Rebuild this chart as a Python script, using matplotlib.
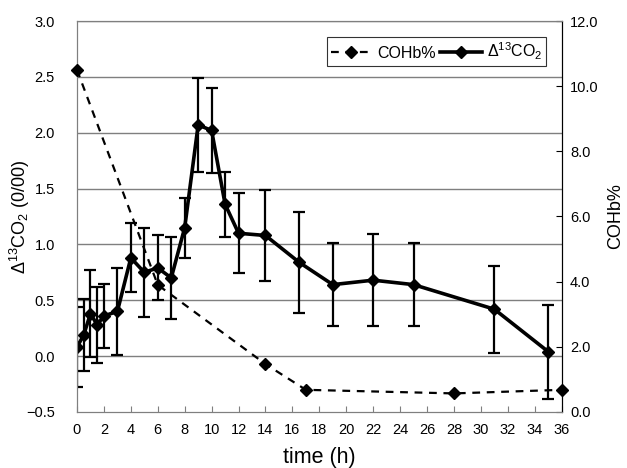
import matplotlib
matplotlib.use("Agg")
import matplotlib.pyplot as plt
from matplotlib.lines import Line2D

plt.rcParams["font.family"] = ["Liberation Sans", "DejaVu Sans"]

# Δ13CO2 series (left axis) with symmetric error bars
time_h = [0, 0.5, 1, 1.5, 2, 3, 4, 5, 6, 7, 8, 9, 10, 11, 12, 14, 16.5, 19, 22, 25, 31, 35]
d13co2 = [0.08, 0.19, 0.38, 0.28, 0.36, 0.40, 0.88, 0.75, 0.79, 0.70, 1.15, 2.07, 2.02, 1.36,
          1.10, 1.08, 0.84, 0.64, 0.68, 0.64, 0.42, 0.04]
d13co2_err = [0.36, 0.32, 0.39, 0.34, 0.29, 0.39, 0.31, 0.40, 0.29, 0.37, 0.27, 0.42, 0.38, 0.29,
              0.36, 0.41, 0.45, 0.37, 0.41, 0.37, 0.39, 0.42]

# COHb% series (right axis)
cohb_time = [0, 6, 14, 17, 28, 36]
cohb = [10.5, 3.9, 1.47, 0.68, 0.57, 0.68]

left_ticks = [-0.5, 0.0, 0.5, 1.0, 1.5, 2.0, 2.5, 3.0]
right_ticks = [0, 2, 4, 6, 8, 10, 12]
x_ticks = list(range(0, 37, 2))

fig = plt.figure(figsize=(6.27, 4.68), dpi=100)
ax = fig.add_axes([0.1228, 0.1197, 0.7730, 0.8354])
ax2 = ax.twinx()

grid_color = "#7f7f7f"
for v in left_ticks[1:]:
    ax.axhline(v, color=grid_color, lw=1.0, zorder=0)

ax.errorbar(time_h, d13co2, yerr=d13co2_err, color="black", lw=2.6, elinewidth=1.6,
            capsize=4, capthick=1.6, marker="D", markersize=6, zorder=3)

dash = (0, (3.5, 3))
ax2.plot(cohb_time, cohb, ls=dash, lw=1.6, marker="D", color="black", markersize=6,
         clip_on=False, zorder=4)

ax.set_xlim(0, 36)
ax.set_ylim(-0.5, 3.0)
ax2.set_ylim(0, 12)
ax.set_xticks(x_ticks)
ax.set_yticks(left_ticks)
ax.set_yticklabels(["\u22120.5" if v < 0 else f"{v:.1f}" for v in left_ticks])
ax2.set_yticks(right_ticks)
ax2.set_yticklabels([f"{v:.1f}" for v in right_ticks])

ax.tick_params(axis="x", direction="in", length=4, color=grid_color, labelsize=10.5, pad=8)
ax.tick_params(axis="y", direction="in", length=0, labelsize=10.5, pad=16)
ax2.tick_params(axis="y", direction="in", length=4, labelsize=10.5, pad=6)

for s in ["left", "bottom", "top"]:
    ax.spines[s].set_color(grid_color)
    ax2.spines[s].set_color(grid_color)
ax2.spines["right"].set_color("black")

ax.set_xlabel("time (h)", fontsize=15.5, labelpad=7)
ax.set_ylabel("Δ$\\mathregular{^{13}}$CO$\\mathregular{_2}$ (0/00)", fontsize=13)
ax.yaxis.set_label_coords(-0.092, 0.5)
ax2.set_ylabel("COHb%", fontsize=13)
ax2.yaxis.set_label_coords(1.094, 0.5)

handles = [
    Line2D([], [], color="black", lw=1.6, ls=dash, marker="D", markersize=6),
    Line2D([], [], color="black", lw=2.6, marker="D", markersize=6),
]
leg = ax2.legend(handles, ["COHb%", "Δ$\\mathregular{^{13}}$CO$\\mathregular{_2}$"], ncol=2,
                 loc="upper right", bbox_to_anchor=(0.968, 0.959), borderaxespad=0,
                 fontsize=11.5, frameon=True, fancybox=False, handlelength=2.6,
                 handletextpad=0.3, columnspacing=0.3, borderpad=0.25)
leg.get_frame().set_edgecolor("black")
leg.get_frame().set_linewidth(0.8)

fig.savefig("out.png", dpi=100)
